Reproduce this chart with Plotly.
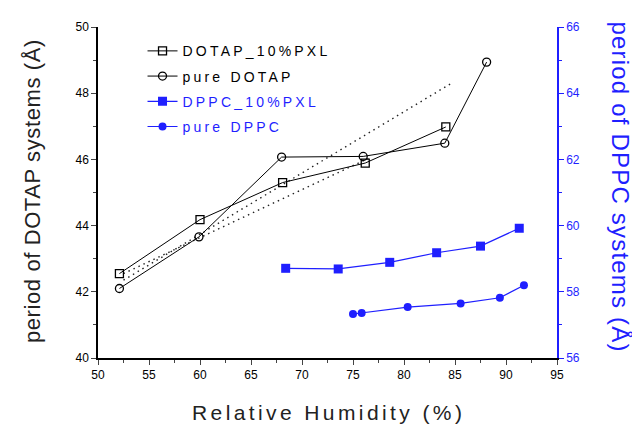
import plotly.graph_objects as go

# ---- data ----
dotap10_x = [52.1, 60.0, 68.1, 76.2, 84.1]
dotap10_y = [42.55, 44.18, 45.30, 45.89, 46.98]

pure_dotap_x = [52.1, 59.9, 68.0, 76.0, 84.0, 88.1]
pure_dotap_y = [42.10, 43.66, 46.07, 46.09, 46.49, 48.94]

fit_a_x = [52.5, 84.7]
fit_a_y = [42.35, 48.31]
fit_b_x = [52.5, 76.5]
fit_b_y = [42.55, 46.03]

dppc10_x = [68.4, 73.55, 78.6, 83.2, 87.5, 91.3]
dppc10_y = [58.71, 58.69, 58.89, 59.18, 59.38, 59.92]

pure_dppc_x = [75.0, 75.85, 80.36, 85.55, 89.4, 91.76]
pure_dppc_y = [57.33, 57.36, 57.54, 57.65, 57.82, 58.20]

x_ticks = [50, 55, 60, 65, 70, 75, 80, 85, 90, 95]
left_ticks = [40, 42, 44, 46, 48, 50]
right_ticks = [56, 58, 60, 62, 64, 66]

BLUE = "#1f1fff"
FONT = "Liberation Sans, Arial, sans-serif"

def lbl(text, color):
    return f"<span style='letter-spacing:3.2px;color:{color}'>{text}</span>"

def spaced(text, px):
    return f"<span style='letter-spacing:{px}px'>{text}</span>"

fig = go.Figure()

fig.add_trace(go.Scatter(x=fit_a_x, y=fit_a_y, mode="lines", showlegend=False,
                         line=dict(color="#222222", width=1.4, dash="1.5px,4px")))
fig.add_trace(go.Scatter(x=fit_b_x, y=fit_b_y, mode="lines", showlegend=False,
                         line=dict(color="#222222", width=1.4, dash="1.5px,4px")))

fig.add_trace(go.Scatter(x=dotap10_x, y=dotap10_y, mode="lines+markers",
                         name=lbl("DOTAP_10%PXL", "black"), legendgroup="a",
                         line=dict(color="black", width=1),
                         marker=dict(symbol="square-open", size=8, color="black",
                                     line=dict(width=1.3))))
fig.add_trace(go.Scatter(x=pure_dotap_x, y=pure_dotap_y, mode="lines+markers",
                         name=lbl("pure DOTAP", "black"), legendgroup="b",
                         line=dict(color="black", width=1),
                         marker=dict(symbol="circle-open", size=8, color="black",
                                     line=dict(width=1.3))))
fig.add_trace(go.Scatter(x=dppc10_x, y=dppc10_y, mode="lines+markers", yaxis="y2",
                         name=lbl("DPPC_10%PXL", BLUE), legendgroup="c",
                         line=dict(color=BLUE, width=1.2),
                         marker=dict(symbol="square", size=9, color=BLUE)))
fig.add_trace(go.Scatter(x=pure_dppc_x, y=pure_dppc_y, mode="lines+markers", yaxis="y2",
                         name=lbl("pure DPPC", BLUE), legendgroup="d",
                         line=dict(color=BLUE, width=1.2),
                         marker=dict(symbol="circle", size=8, color=BLUE)))

fig.update_layout(
    width=632, height=421,
    margin=dict(l=90, r=83, t=13, b=71),
    paper_bgcolor="white", plot_bgcolor="white",
    font=dict(family=FONT, size=12, color="black"),
    showlegend=True,
    legend=dict(x=0.097, y=0.975, xanchor="left", yanchor="top",
                bgcolor="rgba(0,0,0,0)", font=dict(size=14, family=FONT),
                tracegroupgap=4, itemwidth=30),
    xaxis=dict(range=[50, 95], tickvals=x_ticks, ticks="outside", ticklen=5,
               tickwidth=1.3, showline=True, linecolor="black", linewidth=1.5,
               showgrid=False, zeroline=False, tickfont=dict(size=12),
               minor=dict(dtick=2.5, ticks="outside", ticklen=3, tickwidth=1)),
    xaxis2=dict(range=[50, 95], overlaying="x", anchor="y", side="top",
                tickvals=x_ticks, ticks="inside", ticklen=5, tickwidth=1.3,
                showticklabels=False, showline=True, linecolor="black",
                linewidth=1.5, showgrid=False, zeroline=False,
                minor=dict(dtick=2.5, ticks="inside", ticklen=3, tickwidth=1)),
    yaxis=dict(range=[40, 50], tickvals=left_ticks, ticks="outside", ticklen=5,
               tickwidth=1.3, showline=True, linecolor="black", linewidth=1.5,
               showgrid=False, zeroline=False, tickfont=dict(size=12),
               minor=dict(dtick=1, ticks="outside", ticklen=3, tickwidth=1)),
    yaxis2=dict(range=[56, 66], tickvals=right_ticks, overlaying="y", side="right",
                anchor="x", ticks="outside", ticklen=5, tickwidth=1.3,
                tickcolor=BLUE, showline=True, linecolor=BLUE, linewidth=1.5,
                showgrid=False, zeroline=False,
                tickfont=dict(size=12, color=BLUE),
                minor=dict(dtick=1, ticks="outside", ticklen=3, tickwidth=1,
                           tickcolor=BLUE)),
    annotations=[
        dict(text=spaced("period of DOTAP systems (Å)", 0.6), xref="paper", yref="paper",
             x=-0.144, y=0.504, xanchor="center", yanchor="middle",
             textangle=-90, showarrow=False,
             font=dict(size=22, color="#222222", family=FONT)),
        dict(text=spaced("Relative Humidity (%)", 3.4), xref="paper", yref="paper",
             x=0.502, y=-0.166, xanchor="center", yanchor="middle",
             showarrow=False, font=dict(size=21, color="#222222", family=FONT)),
        dict(text=spaced("period of DPPC systems (Å)", 1.2), xref="paper", yref="paper",
             x=1.139, y=0.516, xanchor="center", yanchor="middle",
             textangle=90, showarrow=False,
             font=dict(size=24, color=BLUE, family=FONT)),
    ],
)

fig.write_html("out.html")
